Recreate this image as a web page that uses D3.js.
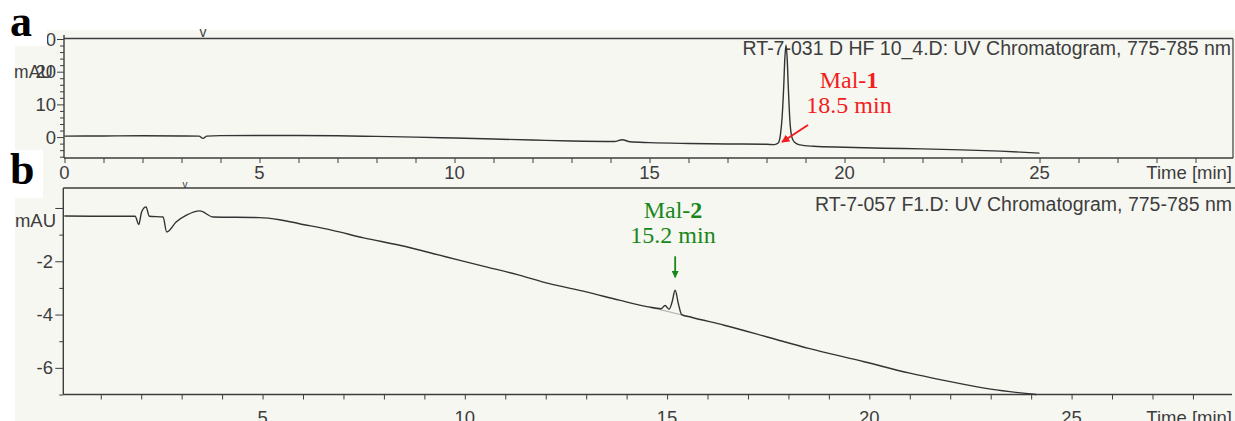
<!DOCTYPE html>
<html>
<head>
<meta charset="utf-8">
<script src="https://cdn.jsdelivr.net/npm/d3@7"></script>
<style>
  body { margin: 0; background: #fff; }
  svg { display: block; }
  text { font-family: "Liberation Sans", Arial, sans-serif; }
  text.serif { font-family: "Liberation Serif", "Times New Roman", serif; }
</style>
</head>
<body>
<svg id="chart" width="1235" height="421"></svg>
<script>
// ---- Run a: RT-7-031 D HF 10_4.D, absorbance 775-785 nm ----
const timeA = [0, 1, 2, 3, 3.45, 3.55, 3.65, 4, 5, 6, 7, 8, 9, 10, 11, 12, 13, 14.1, 14.3, 14.5, 15, 16, 17, 18,
  18.2, 18.3, 18.36, 18.4, 18.44, 18.47, 18.5, 18.53, 18.56, 18.6, 18.65, 18.72, 18.85, 19.2,
  20, 21, 22, 23, 24, 25];
const signalA = [0.3, 0.35, 0.4, 0.35, 0.3, -0.4, 0.3, 0.45, 0.5, 0.5, 0.4, 0.2, 0.0, -0.3, -0.6, -0.9, -1.2, -1.35, -0.8, -1.45, -1.7, -1.95, -2.1, -2.2,
  -2.3, -1.8, 1.0, 6, 15, 24, 28.2, 24, 15, 5, 0.0, -1.6, -2.4, -2.8,
  -3.1, -3.4, -3.6, -3.9, -4.3, -4.9];

// ---- Run b: RT-7-057 F1.D, absorbance 775-785 nm ----
const timeB = [0.1, 1.0, 1.85, 1.94, 2.01, 2.12, 2.2, 2.54, 2.63, 2.87, 3.12, 3.45, 3.78, 4.93, 5.42, 5.91, 6.73, 7.5, 8.39,
  9.5, 10.5, 11.3, 12.09, 13.0, 13.82, 14.5, 14.85, 14.95, 15.05, 15.12, 15.2, 15.28, 15.36, 15.6,
  16.41, 17.5, 18.5, 19.87, 21.0, 21.81, 23.0, 24.13];
const signalB = [-0.30, -0.31, -0.31, -0.62, -0.15, 0.04, -0.31, -0.34, -0.9, -0.52, -0.27, -0.11, -0.34, -0.36, -0.44, -0.59, -0.84, -1.12, -1.4,
  -1.82, -2.2, -2.5, -2.84, -3.15, -3.46, -3.70, -3.78, -3.66, -3.80, -3.55, -3.09, -3.6, -4.0, -4.1,
  -4.4, -4.85, -5.27, -5.77, -6.2, -6.46, -6.8, -7.0];
// integration baseline under the Mal-2 peak
const baseTimeB = [14.7, 15.6];
const baseSignalB = [-3.77, -4.1];

// ---- axes ----
const xTicksA = [0, 5, 10, 15, 20, 25];
const xTicksB = [5, 10, 15, 20, 25];
const yTicksA = [0, 10, 20, 30];
const yTicksB = [-2, -4, -6];
const xTitle = "Time [min]";
const yUnit = "mAU";
const titleA = "RT-7-031 D HF 10_4.D: UV Chromatogram, 775-785 nm";
const titleB = "RT-7-057 F1.D: UV Chromatogram, 775-785 nm";

// ---- peak annotations ----
const peakNames = ["Mal-", "Mal-"];
const peakNums = ["1", "2"];
const peakTimes = [18.5, 15.2];
const peakColors = ["#f21d1d", "#17871a"];

const svg = d3.select("#chart");
const INK = "#3d3d3d";
const PAPER = "#f7f7f2";
const TICK_FS = 18.5;
const TITLE_FS = 19.5;

svg.append("rect").attr("x", 15).attr("y", 30).attr("width", 1220).attr("height", 391).attr("fill", PAPER);

const defs = svg.append("defs");
peakColors.forEach((c, i) => {
  defs.append("marker").attr("id", "head" + i)
    .attr("viewBox", "0 0 10 10").attr("refX", 9).attr("refY", 5)
    .attr("markerWidth", 4).attr("markerHeight", 4).attr("orient", "auto")
    .append("path").attr("d", "M0,0L10,5L0,10z").attr("fill", c);
});

// ---------- panel a ----------
const xA = d3.scaleLinear().domain([0, 30]).range([64.5, 1234.5]);
const yA = d3.scaleLinear().domain([-6.4, 30]).range([158, 39]);
const gA = svg.append("g");

// frame
gA.append("line").attr("x1", 64).attr("x2", 1233).attr("y1", 38.5).attr("y2", 38.5).attr("stroke", INK).attr("stroke-width", 1.4);
gA.append("line").attr("x1", 1233).attr("x2", 1233).attr("y1", 38.5).attr("y2", 158).attr("stroke", INK).attr("stroke-width", 1.2);

// x axis
const axA = gA.append("g").attr("transform", `translate(0,${yA(-6.4)})`)
  .call(d3.axisBottom(xA).tickValues(d3.range(0, 30, 1)).tickSize(5).tickFormat(""));
axA.select(".domain").attr("stroke", INK).attr("stroke-width", 1.4).attr("d", `M${xA(0) - 0.5},0H1233`);
axA.selectAll(".tick line").attr("stroke", INK);
gA.append("g").selectAll("text").data(xTicksA).join("text")
  .attr("x", d => xA(d)).attr("y", 179).attr("text-anchor", "middle")
  .attr("font-size", TICK_FS).attr("fill", INK).text(d => d);
gA.append("text").attr("x", 1232).attr("y", 179).attr("text-anchor", "end")
  .attr("font-size", TICK_FS).attr("fill", INK).text(xTitle);

// y axis
const ayA = gA.append("g").attr("transform", `translate(64,0)`)
  .call(d3.axisLeft(yA).tickValues(d3.range(-6, 31, 2)).tickSize(4).tickFormat(""));
ayA.select(".domain").attr("stroke", INK).attr("stroke-width", 1.4).attr("d", "M0,35V158");
ayA.selectAll(".tick line").attr("stroke", INK).attr("x2", d => yTicksA.includes(d) ? -7 : -4);
gA.append("g").selectAll("text").data(yTicksA).join("text")
  .attr("x", 56).attr("y", d => yA(d) + 6.5).attr("text-anchor", "end")
  .attr("font-size", TICK_FS).attr("fill", INK).text(d => d);
gA.append("text").attr("x", 53).attr("y", yA(20) + 6).attr("text-anchor", "end")
  .attr("font-size", 17.5).attr("fill", INK).text(yUnit);

// injection marker
gA.append("text").attr("x", xA(3.55)).attr("y", 37).attr("text-anchor", "middle")
  .attr("font-size", 14).attr("fill", INK).text("v");

// title
gA.append("text").attr("x", 1231).attr("y", 55).attr("text-anchor", "end")
  .attr("font-size", TITLE_FS).attr("fill", INK).text(titleA);

// trace
const lineA = d3.line().x(d => xA(d[0])).y(d => yA(d[1])).curve(d3.curveMonotoneX);
gA.append("path").datum(d3.zip(timeA, signalA)).attr("d", lineA)
  .attr("fill", "none").attr("stroke", "#333").attr("stroke-width", 1.4);

// ---------- panel b ----------
const xB = d3.scaleLinear().domain([0, 29]).range([60.3, 1233.4]);
const yB = d3.scaleLinear().domain([-7, 0.75]).range([394.5, 188]);
const gB = svg.append("g");

gB.append("line").attr("x1", 63.3).attr("x2", 1235).attr("y1", 188).attr("y2", 188).attr("stroke", INK).attr("stroke-width", 1.4);

const axB = gB.append("g").attr("transform", `translate(0,${yB(-7)})`)
  .call(d3.axisBottom(xB).tickValues(d3.range(1, 29, 1)).tickSize(5).tickFormat(""));
axB.select(".domain").attr("stroke", INK).attr("stroke-width", 1.4).attr("d", "M63.3,0H1232");
axB.selectAll(".tick line").attr("stroke", INK);
gB.append("g").selectAll("text").data(xTicksB).join("text")
  .attr("x", d => xB(d)).attr("y", 424).attr("text-anchor", "middle")
  .attr("font-size", TICK_FS).attr("fill", INK).text(d => d);
gB.append("text").attr("x", 1232).attr("y", 424).attr("text-anchor", "end")
  .attr("font-size", TICK_FS).attr("fill", INK).text(xTitle);

const ayB = gB.append("g").attr("transform", `translate(63.3,0)`)
  .call(d3.axisLeft(yB).tickValues(d3.range(-7, 1, 1)).tickSize(4).tickFormat(""));
ayB.select(".domain").attr("stroke", INK).attr("stroke-width", 1.4).attr("d", "M0,188V394.5");
ayB.selectAll(".tick line").attr("stroke", INK).attr("x2", d => (d % 2 === 0) ? -8 : -4);
gB.append("g").selectAll("text").data(yTicksB).join("text")
  .attr("x", 53).attr("y", d => yB(d) + 6.5).attr("text-anchor", "end")
  .attr("font-size", TICK_FS).attr("fill", INK).text(d => d);
gB.append("text").attr("x", 56).attr("y", 227).attr("text-anchor", "end")
  .attr("font-size", TICK_FS).attr("fill", INK).text(yUnit);

gB.append("text").attr("x", 185).attr("y", 188).attr("text-anchor", "middle")
  .attr("font-size", 10).attr("fill", INK).text("v");

gB.append("text").attr("x", 1232).attr("y", 211).attr("text-anchor", "end")
  .attr("font-size", TITLE_FS).attr("fill", INK).text(titleB);

const lineB = d3.line().x(d => xB(d[0])).y(d => yB(d[1])).curve(d3.curveMonotoneX);
gB.append("path").datum(d3.zip(baseTimeB, baseSignalB)).attr("d", lineB)
  .attr("fill", "none").attr("stroke", "#b3b3b3").attr("stroke-width", 1.2);
gB.append("path").datum(d3.zip(timeB, signalB)).attr("d", lineB)
  .attr("fill", "none").attr("stroke", "#333").attr("stroke-width", 1.4);

// ---------- peak labels ----------
function peakLabel(g, cx, yTop, i) {
  const t1 = g.append("text").attr("class", "serif").attr("x", cx).attr("y", yTop).attr("text-anchor", "middle")
    .attr("font-size", 24).attr("fill", peakColors[i]);
  t1.append("tspan").text(peakNames[i]);
  t1.append("tspan").attr("font-weight", "bold").text(peakNums[i]);
  g.append("text").attr("class", "serif").attr("x", cx).attr("y", yTop + 25).attr("text-anchor", "middle")
    .attr("font-size", 24).attr("fill", peakColors[i]).text(peakTimes[i].toFixed(1) + " min");
}
peakLabel(gA, 849, 88, 0);
peakLabel(gB, 673, 218, 1);

// arrow to Mal-1
const tipA = [xA(peakTimes[0]) - 4, yA(-1.5)];
gA.append("line").attr("x1", tipA[0] + 26).attr("y1", tipA[1] - 17).attr("x2", tipA[0]).attr("y2", tipA[1])
  .attr("stroke", peakColors[0]).attr("stroke-width", 2).attr("marker-end", "url(#head0)");

// arrow to Mal-2
const tipB = [xB(peakTimes[1]), yB(-3.09) - 13];
gB.append("line").attr("x1", tipB[0]).attr("y1", tipB[1] - 21).attr("x2", tipB[0]).attr("y2", tipB[1])
  .attr("stroke", peakColors[1]).attr("stroke-width", 1.8).attr("marker-end", "url(#head1)");

// ---------- panel letters ----------
svg.append("rect").attr("x", 0).attr("y", 0).attr("width", 47).attr("height", 46).attr("fill", "#fff");
svg.append("rect").attr("x", 0).attr("y", 150).attr("width", 43).attr("height", 48).attr("fill", "#fff");
svg.append("text").attr("class", "serif").attr("x", 10).attr("y", 36)
  .attr("font-weight", "bold").attr("font-size", 44).attr("fill", "#000").text("a");
svg.append("text").attr("class", "serif").attr("x", 10).attr("y", 184)
  .attr("font-weight", "bold").attr("font-size", 44).attr("fill", "#000").text("b");
</script>
</body>
</html>
